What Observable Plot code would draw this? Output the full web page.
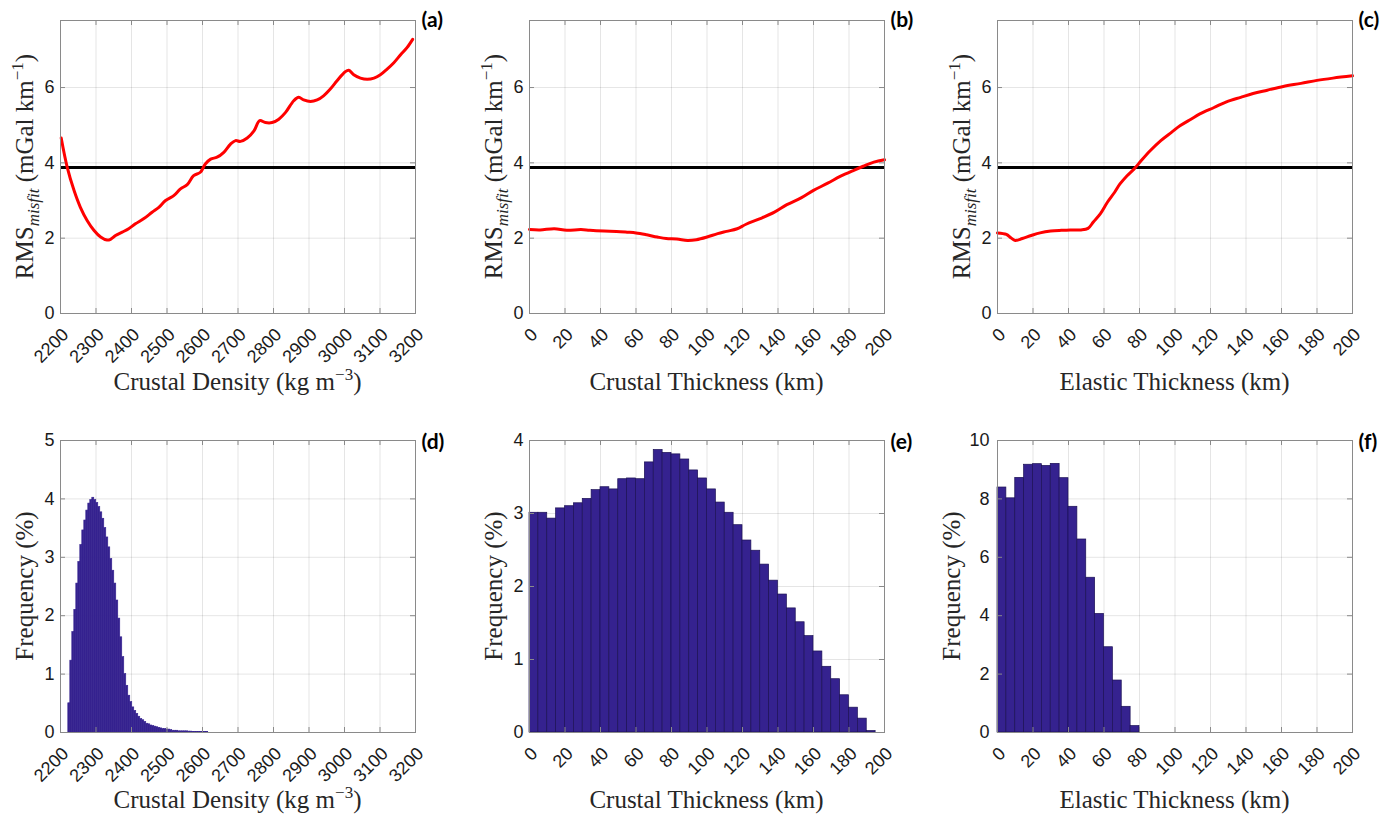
<!DOCTYPE html>
<html>
<head>
<meta charset="utf-8">
<script src="https://cdn.jsdelivr.net/npm/d3@7"></script>
<script src="https://cdn.jsdelivr.net/npm/@observablehq/plot@0.6"></script>
<style>
  html, body { margin: 0; padding: 0; background: #fff; }
  #fig { position: relative; width: 1397px; height: 818px; overflow: hidden; background: #fff; }
  #fig svg { position: absolute; }
</style>
</head>
<body>
<div id="fig"></div>
<script>
// ---------- tick values ----------
const densityTicks = [2200, 2300, 2400, 2500, 2600, 2700, 2800, 2900, 3000, 3100, 3200];
const kmTicks = [0, 20, 40, 60, 80, 100, 120, 140, 160, 180, 200];
const rmsTicks = [0, 2, 4, 6];
const freqTicksD = [0, 1, 2, 3, 4, 5];
const freqTicksE = [0, 1, 2, 3, 4];
const freqTicksF = [0, 2, 4, 6, 8, 10];

// ---------- misfit threshold (black line) ----------
const rmsThreshold = 3.88;

// ---------- (a) RMS misfit vs crustal density ----------
const densityGrid = [2202, 2219, 2238, 2256, 2275, 2294, 2313, 2331, 2341, 2355, 2374, 2392, 2411, 2435,
  2458, 2477, 2496, 2519, 2538, 2557, 2575, 2594, 2608, 2623, 2641, 2660, 2679, 2693, 2707, 2726, 2745,
  2761, 2777, 2796, 2815, 2834, 2857, 2871, 2885, 2904, 2923, 2941, 2960, 2979, 3002, 3012, 3026, 3045,
  3064, 3083, 3101, 3120, 3139, 3158, 3176, 3192];
const densityRms = [4.66, 3.88, 3.27, 2.82, 2.47, 2.21, 2.03, 1.95, 1.97, 2.07, 2.16, 2.25, 2.38, 2.52,
  2.69, 2.82, 3.00, 3.13, 3.31, 3.42, 3.66, 3.75, 3.97, 4.10, 4.15, 4.28, 4.50, 4.59, 4.57, 4.66, 4.85,
  5.12, 5.07, 5.07, 5.16, 5.34, 5.65, 5.74, 5.67, 5.63, 5.67, 5.78, 5.96, 6.18, 6.42, 6.46, 6.34, 6.25,
  6.22, 6.25, 6.34, 6.49, 6.66, 6.87, 7.06, 7.28];

// ---------- (b) RMS misfit vs crustal thickness ----------
const crustGrid = [0, 6, 14, 21, 29, 34, 42, 49, 55, 60, 66, 72, 77, 83, 89, 94, 100, 106, 111, 117,
  122, 130, 138, 145, 153, 160, 168, 175, 183, 188, 194, 200];
const crustRms = [2.23, 2.22, 2.25, 2.21, 2.23, 2.21, 2.19, 2.18, 2.16, 2.14, 2.09, 2.03, 1.99, 1.98,
  1.94, 1.96, 2.03, 2.12, 2.18, 2.25, 2.37, 2.52, 2.69, 2.89, 3.07, 3.27, 3.46, 3.64, 3.81, 3.91, 4.02, 4.08];

// ---------- (c) RMS misfit vs elastic thickness ----------
const elasticGrid = [0, 5, 7.5, 10, 14, 19, 24, 30, 36, 41, 47, 51, 54, 58, 62, 66, 69, 73, 77, 81, 86,
  92, 98, 103, 109, 114, 122, 129, 137, 144, 152, 161, 171, 180, 189, 200];
const elasticRms = [2.14, 2.10, 2.01, 1.94, 1.99, 2.07, 2.14, 2.19, 2.21, 2.22, 2.22, 2.26, 2.43, 2.65,
  2.96, 3.22, 3.44, 3.66, 3.84, 4.06, 4.32, 4.59, 4.81, 4.99, 5.16, 5.30, 5.47, 5.62, 5.74, 5.84, 5.93,
  6.03, 6.11, 6.19, 6.25, 6.31];

// ---------- (d) crustal density histogram ----------
const densityBinStart = 2222;
const densityBinWidth = 5.63;
const densityFreq = [0.50, 1.23, 1.72, 2.10, 2.55, 2.92, 3.21, 3.46, 3.63, 3.80, 3.92, 3.98, 4.02, 3.98,
  3.93, 3.86, 3.77, 3.66, 3.50, 3.34, 3.17, 2.97, 2.77, 2.55, 2.26, 1.95, 1.63, 1.29, 1.00, 0.80, 0.63,
  0.52, 0.43, 0.37, 0.32, 0.27, 0.23, 0.21, 0.18, 0.15, 0.14, 0.12, 0.11, 0.10, 0.09, 0.08, 0.07, 0.06,
  0.06, 0.05, 0.05, 0.04, 0.03, 0.03, 0.03, 0.02, 0.02, 0.02, 0.02, 0.02, 0.015, 0.015, 0.01, 0.01, 0.01,
  0.01, 0.01, 0.01, 0.01, 0.01];

// ---------- (e) crustal thickness histogram (5 km bins) ----------
const crustBinWidth = 5;
const crustFreq = [3.01, 3.01, 2.93, 3.07, 3.10, 3.14, 3.20, 3.32, 3.36, 3.33, 3.47, 3.48, 3.47, 3.70,
  3.87, 3.83, 3.81, 3.74, 3.59, 3.48, 3.33, 3.15, 3.01, 2.84, 2.63, 2.49, 2.30, 2.08, 1.89, 1.70, 1.51,
  1.32, 1.11, 0.90, 0.73, 0.51, 0.34, 0.19, 0.02];

// ---------- (f) elastic thickness histogram (5 km bins) ----------
const elasticBinWidth = 5;
const elasticFreq = [8.39, 8.02, 8.72, 9.17, 9.19, 9.13, 9.20, 8.71, 7.73, 6.61, 5.30, 4.06, 2.92, 1.78,
  0.88, 0.22];

// ---------- styling ----------
const RED = "#ff0000";
const BAR = "#35228f";
const FRAME = "#8a8a8a";
const SANS = "'Liberation Sans', Arial, sans-serif";
const SERIF = "'Liberation Serif', 'Times New Roman', serif";
const intFormat = d3.format("d");

// frame positions of the 2 x 3 grid of axes
const frameLefts = [60, 529, 997];
const frameRights = [415, 884, 1352];
const frameTops = [20, 440];
const frameBottoms = [313, 732];

const fig = document.getElementById("fig");

function toBins(freq, start, width) {
  return freq.map((f, i) => ({x1: start + i * width, x2: start + (i + 1) * width, f}));
}

function panel(col, row, o) {
  const svgLeft = col === 0 ? 0 : frameLefts[col] - 60;
  const svgRight = col === 2 ? 1397 : frameRights[col] + 50;
  const svgTop = row === 0 ? 0 : 405;
  const svgBottom = row === 0 ? 405 : 818;
  const width = svgRight - svgLeft;
  const height = svgBottom - svgTop;
  const marginLeft = frameLefts[col] - svgLeft;
  const marginRight = svgRight - frameRights[col];
  const marginTop = frameTops[row] - svgTop;
  const marginBottom = svgBottom - frameBottoms[row];
  const plotW = width - marginLeft - marginRight;
  const plotH = height - marginTop - marginBottom;

  const chart = Plot.plot({
    width, height, marginLeft, marginRight, marginTop, marginBottom,
    style: {fontFamily: SANS, fontSize: "18px", background: "transparent", overflow: "visible", color: "#1a1a1a"},
    x: {domain: o.xDomain},
    y: {domain: o.yDomain},
    marks: [
      Plot.gridX(o.xTicks, {stroke: "#000", strokeOpacity: 0.1}),
      Plot.gridY(o.yTicks, {stroke: "#000", strokeOpacity: 0.1}),
      ...o.marks,
      // inward tick marks on all four sides
      Plot.tickX(o.xTicks, {x: d => d, insetTop: plotH - 5, stroke: FRAME}),
      Plot.tickX(o.xTicks, {x: d => d, insetBottom: plotH - 5, stroke: FRAME}),
      Plot.tickY(o.yTicks, {y: d => d, insetRight: plotW - 5, stroke: FRAME}),
      Plot.tickY(o.yTicks, {y: d => d, insetLeft: plotW - 5, stroke: FRAME}),
      Plot.frame({stroke: FRAME}),
      Plot.axisX(o.xTicks, {
        tickRotate: -45, tickSize: 0, tickPadding: 18, dx: 5, tickFormat: intFormat,
        textAnchor: "end", lineAnchor: "middle", fontSize: 18, label: null
      }),
      Plot.axisY(o.yTicks, {tickSize: 0, tickPadding: o.yPad ?? 6, tickFormat: intFormat, fontSize: 18, label: null}),
      Plot.text([o.letter], {
        frameAnchor: "top-right", dx: 6, dy: o.letterDy ?? 0, textAnchor: "start", lineAnchor: "middle",
        fontFamily: "Lato, 'Open Sans', sans-serif", fontWeight: "bold", fontSize: 21, fill: "#000"
      })
    ]
  });

  const svg = d3.select(chart);

  // x-axis title
  const xt = svg.append("text")
    .attr("x", marginLeft + plotW / 2)
    .attr("y", marginTop + plotH + (row === 0 ? 77 : 76))
    .attr("text-anchor", "middle")
    .attr("font-family", SERIF)
    .attr("font-size", 25)
    .attr("fill", "#262626");
  o.xTitle(xt);

  // y-axis title
  const yt = svg.append("text")
    .attr("transform", `translate(${marginLeft - (o.yTitleOffset ?? 27)},${marginTop + plotH / 2}) rotate(-90)`)
    .attr("text-anchor", "middle")
    .attr("font-family", SERIF)
    .attr("font-size", 25)
    .attr("fill", "#262626");
  o.yTitle(yt);

  chart.style.left = svgLeft + "px";
  chart.style.top = svgTop + "px";
  fig.appendChild(chart);
}

// title builders (with sub/superscripts)
function densityTitle(t) {
  t.append("tspan").text("Crustal Density (kg m");
  t.append("tspan").attr("font-size", 17).attr("dy", -10).text("\u22123");
  t.append("tspan").attr("dy", 10).text(")");
}
const plainTitle = s => t => t.append("tspan").text(s);
function rmsTitle(t) {
  t.append("tspan").text("RMS");
  t.append("tspan").attr("font-size", 17).attr("font-style", "italic").attr("dy", 6).text("misfit");
  t.append("tspan").attr("dy", -6).text(" (mGal km");
  t.append("tspan").attr("font-size", 17).attr("dy", -10).text("\u22121");
  t.append("tspan").attr("dy", 10).text(")");
}

const threshold = Plot.ruleY([rmsThreshold], {stroke: "#000", strokeWidth: 3});
const curve = (xs, ys) => Plot.line(ys, {x: xs, y: ys, stroke: RED, strokeWidth: 3, curve: "catmull-rom"});
const rmsDomain = [0, 7.78];

panel(0, 0, {
  xDomain: [2200, 3200], yDomain: rmsDomain, xTicks: densityTicks, yTicks: rmsTicks,
  marks: [threshold, curve(densityGrid, densityRms)],
  letter: "(a)", xTitle: densityTitle, yTitle: rmsTitle
});
panel(1, 0, {
  xDomain: [0, 200], yDomain: rmsDomain, xTicks: kmTicks, yTicks: rmsTicks,
  marks: [threshold, curve(crustGrid, crustRms)],
  letter: "(b)", xTitle: plainTitle("Crustal Thickness (km)"), yTitle: rmsTitle
});
panel(2, 0, {
  xDomain: [0, 200], yDomain: rmsDomain, xTicks: kmTicks, yTicks: rmsTicks,
  marks: [threshold, curve(elasticGrid, elasticRms)],
  letter: "(c)", xTitle: plainTitle("Elastic Thickness (km)"), yTitle: rmsTitle
});

panel(0, 1, {
  xDomain: [2200, 3200], yDomain: [0, 5], xTicks: densityTicks, yTicks: freqTicksD,
  marks: [Plot.rectY(toBins(densityFreq, densityBinStart, densityBinWidth), {x1: "x1", x2: "x2", y: "f", fill: BAR, stroke: BAR, strokeWidth: 0.6, inset: 0})],
  letter: "(d)", letterDy: 2, xTitle: densityTitle, yTitle: plainTitle("Frequency (%)")
});
panel(1, 1, {
  xDomain: [0, 200], yDomain: [0, 4], xTicks: kmTicks, yTicks: freqTicksE,
  marks: [Plot.rectY(toBins(crustFreq, 0, crustBinWidth), {x1: "x1", x2: "x2", y: "f", fill: BAR, stroke: "#1c1155", strokeWidth: 0.7, inset: 0})],
  letter: "(e)", letterDy: 2, xTitle: plainTitle("Crustal Thickness (km)"), yTitle: plainTitle("Frequency (%)")
});
panel(2, 1, {
  xDomain: [0, 200], yDomain: [0, 10], xTicks: kmTicks, yTicks: freqTicksF,
  marks: [Plot.rectY(toBins(elasticFreq, 0, elasticBinWidth), {x1: "x1", x2: "x2", y: "f", fill: BAR, stroke: "#1c1155", strokeWidth: 0.7, inset: 0})],
  letter: "(f)", letterDy: 2, yPad: 8, yTitleOffset: 37,
  xTitle: plainTitle("Elastic Thickness (km)"), yTitle: plainTitle("Frequency (%)")
});
</script>
</body>
</html>
